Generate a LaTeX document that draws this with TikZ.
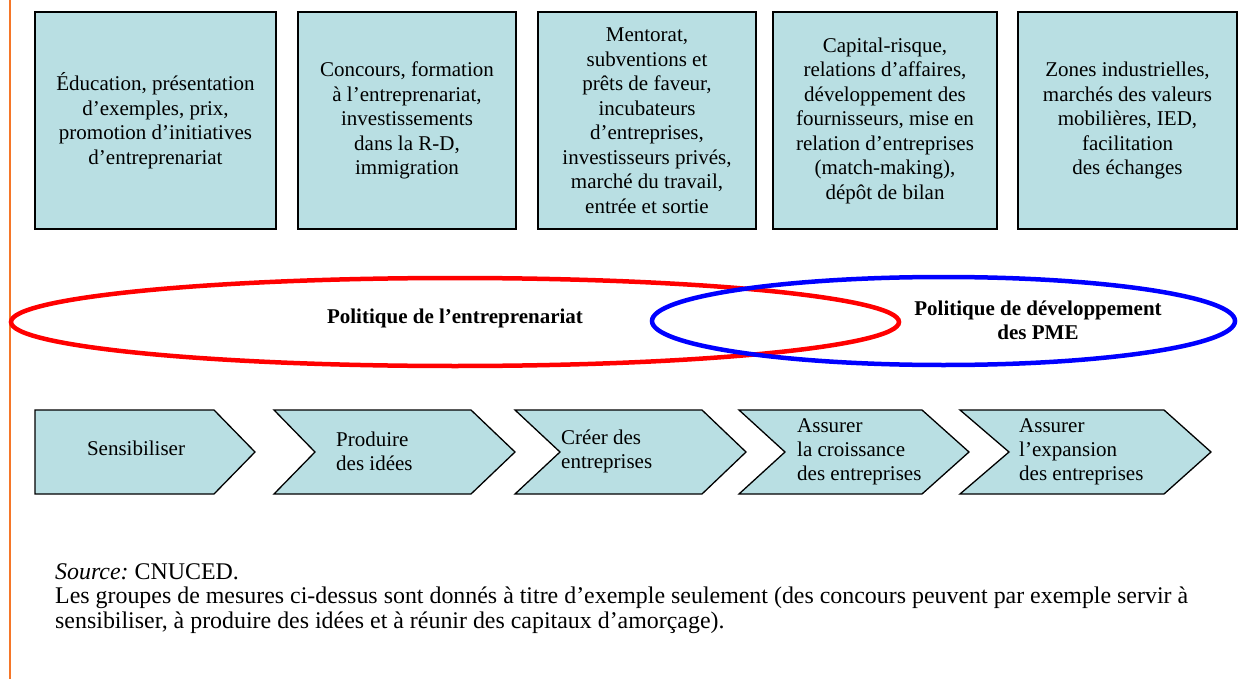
\documentclass[tikz,border=0pt]{standalone}
\usepackage{fontspec}
\setmainfont{Liberation Serif}
\usetikzlibrary{shapes.geometric}
\definecolor{boxfill}{RGB}{185,223,227}
\definecolor{orangeline}{RGB}{245,118,40}
\definecolor{redline}{RGB}{255,0,0}
\definecolor{blueline}{RGB}{0,0,255}
\begin{document}
\begin{tikzpicture}[x=1pt,y=-1pt,
  mbox/.style={draw=black, line width=1.6pt, fill=boxfill, minimum height=217pt, inner sep=0pt, align=center, font=\fontsize{21}{24.5}\selectfont},
  chev/.style={draw=black, line width=1.3pt, fill=boxfill, line join=miter},
  chevtext/.style={anchor=west, inner sep=0pt, align=left, font=\fontsize{21}{24}\selectfont},
  pol/.style={ellipse, line width=4.5pt, minimum height=88pt, inner sep=0pt},
  poltext/.style={align=center, inner sep=0pt, font=\fontsize{21}{24}\selectfont\bfseries},
  note/.style={anchor=west, inner sep=0pt, font=\fontsize{23.9}{25.5}\selectfont}]
\useasboundingbox (0,0) rectangle (1247,679);
\draw[orangeline, line width=2pt] (10,0) -- (10,679);

% top boxes
\node[mbox, minimum width=241pt] (b1) at (155.5,120.5) {Éducation, présentation\\d’exemples, prix,\\promotion d’initiatives\\d’entreprenariat};
\node[mbox, minimum width=218pt] (b2) at (407,120.5) {Concours, formation\\à l’entreprenariat,\\investissements\\dans la R-D,\\immigration};
\node[mbox, minimum width=218pt] (b3) at (647,120.5) {Mentorat,\\subventions et\\prêts de faveur,\\incubateurs\\d’entreprises,\\investisseurs privés,\\marché du travail,\\entrée et sortie};
\node[mbox, minimum width=224pt] (b4) at (885,120.5) {Capital-risque,\\relations d’affaires,\\développement des\\fournisseurs, mise en\\relation d’entreprises\\(match-making),\\dépôt de bilan};
\node[mbox, minimum width=219pt] (b5) at (1127.5,120.5) {Zones industrielles,\\marchés des valeurs\\mobilières, IED,\\facilitation\\des échanges};

% policy ellipses
\node[pol, draw=redline, minimum width=888pt] (ered) at (455,322) {};
\node[pol, draw=blueline, minimum width=583pt] (eblue) at (943.5,321) {};
\node[poltext] (tred) at (455,318) {Politique de l’entreprenariat};
\node[poltext] (tblue) at (1038,320) {Politique de développement\\des PME};

% chevrons
\draw[chev] (35,410) -- (214,410) -- (255,452) -- (214,494) -- (35,494) -- cycle;
\draw[chev] (274,410) -- (471,410) -- (515,452) -- (471,494) -- (274,494) -- (315,452) -- cycle;
\draw[chev] (515,410) -- (702,410) -- (746,452) -- (702,494) -- (515,494) -- (560,452) -- cycle;
\draw[chev] (739,410) -- (922,410) -- (969,452) -- (922,494) -- (739,494) -- (785,452) -- cycle;
\draw[chev] (960,410) -- (1164,410) -- (1211,452) -- (1164,494) -- (960,494) -- (1009,452) -- cycle;

\node[inner sep=0pt, font=\fontsize{21}{24}\selectfont] (c1) at (136,448) {Sensibiliser};
\node[chevtext] (c2) at (336,451.5) {Produire\\des idées};
\node[chevtext] (c3) at (561,451.5) {Créer des\\entreprises};
\node[chevtext] (c4) at (797,452) {Assurer\\la croissance\\des entreprises};
\node[chevtext] (c5) at (1019,452) {Assurer\\l’expansion\\des entreprises};

% notes
\node[note] (n1) at (55,572) {\textit{Source:}~CNUCED.};
\node[note] (n2) at (55,598) {Les groupes de mesures ci-dessus sont donnés à titre d’exemple seulement (des concours peuvent par exemple servir à};
\node[note] (n3) at (55,623) {sensibiliser, à produire des idées et à réunir des capitaux d’amorçage).};
\end{tikzpicture}
\end{document}
